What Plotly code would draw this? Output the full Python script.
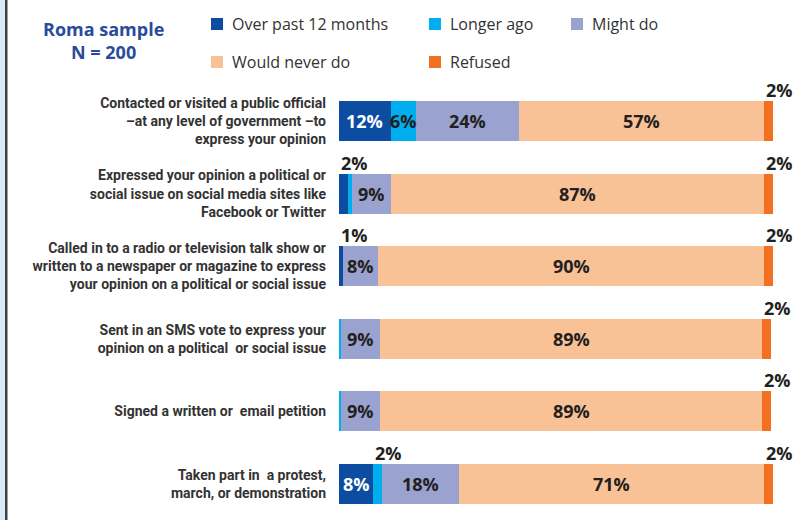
import plotly.graph_objects as go

# Survey items (top to bottom)
categories = [
    "Contacted or visited a public official<br>–at any level of government –to<br>express your opinion",
    "Expressed your opinion a political or<br>social issue on social media sites like<br>Facebook or Twitter",
    "Called in to a radio or television talk show or<br>written to a newspaper or magazine to express<br>your opinion on a political or social issue",
    "Sent in an SMS vote to express your<br>opinion on a political  or social issue",
    "Signed a written or  email petition",
    "Taken part in  a protest,<br>march, or demonstration",
]

series_names = ["Over past 12 months", "Longer ago", "Might do", "Would never do", "Refused"]
over_past_12 = [12, 2, 1, 0, 0, 8]
longer_ago = [6, 1, 0, 0.5, 0.5, 2]
might_do = [24, 9, 8, 9, 9, 18]
would_never = [57, 87, 90, 89, 89, 71]
refused = [2, 2, 2, 2, 2, 2]

series_values = [over_past_12, longer_ago, might_do, would_never, refused]
colors = ["#0d4da1", "#00adef", "#9aa2cf", "#f9c196", "#f37021"]
value_text_colors = ["#ffffff", "#231f20", "#231f20", "#231f20", "#231f20"]

# Thin slivers that carry no value label: (series index, row index)
unlabeled = {(1, 1), (1, 3), (1, 4)}

W, H = 795, 520
ML, MR, MT, MB = 339, 22, 85, 0
PW, PH = W - ML - MR, H - MT - MB


def px(x):
    return (x - ML) / PW


def py(y):
    return (H - MB - y) / PH


fig = go.Figure()
for name, vals, col in zip(series_names, series_values, colors):
    fig.add_trace(go.Bar(
        name=name, y=categories, x=vals, orientation="h",
        marker=dict(color=col, line=dict(width=0)),
        hoverinfo="x+name", showlegend=False,
    ))

annotations = []
shapes = []
val_font = "Open Sans, DejaVu Sans, sans-serif"

# Value labels: inside wide segments, above narrow ones
for r, cat in enumerate(categories):
    start = 0.0
    for s, vals in enumerate(series_values):
        v = vals[r]
        if v > 0 and (s, r) not in unlabeled:
            label = f"{v:g}%"
            if v >= 5:
                annotations.append(dict(
                    x=start + v / 2, y=cat, xref="x", yref="y", text=label,
                    showarrow=False, xanchor="center", yanchor="middle",
                    font=dict(family=val_font, size=18, color=value_text_colors[s], weight="bold"),
                ))
            else:
                annotations.append(dict(
                    x=start, y=cat, xref="x", yref="y", text=label,
                    showarrow=False, xanchor="left", yanchor="bottom", yshift=17,
                    font=dict(family=val_font, size=18, color="#231f20", weight="bold"),
                ))
        start += v

# Title block
annotations.append(dict(
    x=px(104), y=py(40), xref="paper", yref="paper",
    text="<b>Roma sample<br>N = 200</b>", showarrow=False,
    xanchor="center", yanchor="middle", align="center",
    font=dict(family=val_font, size=18, color="#2a4b9b"),
))

# Legend drawn as swatches plus text
legend_pos = [(211, 24), (429, 24), (571, 24), (211, 62), (429, 62)]
for name, col, (lx, ly) in zip(series_names, colors, legend_pos):
    shapes.append(dict(
        type="rect", xref="paper", yref="paper",
        x0=px(lx), x1=px(lx + 12), y0=py(ly + 6), y1=py(ly - 6),
        fillcolor=col, line=dict(width=0),
    ))
    annotations.append(dict(
        x=px(lx + 19), y=py(ly), xref="paper", yref="paper", text=name,
        showarrow=False, xanchor="left", yanchor="middle",
        font=dict(family=val_font, size=16, color="#333333"),
    ))

# Page edge: pale strip with dark rule
shapes.append(dict(type="rect", xref="paper", yref="paper",
                   x0=px(0), x1=px(5), y0=py(H), y1=py(0),
                   fillcolor="#dbeaf6", line=dict(width=0), layer="below"))
shapes.append(dict(type="rect", xref="paper", yref="paper",
                   x0=px(5), x1=px(7.5), y0=py(H), y1=py(0),
                   fillcolor="#404040", line=dict(width=0), layer="below"))

fig.update_layout(
    barmode="stack",
    bargap=0.455,
    width=W, height=H,
    margin=dict(l=ML, r=MR, t=MT, b=MB, pad=0),
    paper_bgcolor="white", plot_bgcolor="white",
    xaxis=dict(range=[0, 101], visible=False, fixedrange=True),
    yaxis=dict(
        range=[len(categories) - 0.5, -0.5], showgrid=False, zeroline=False, showline=False,
        ticks="", ticklabelstandoff=12, fixedrange=True,
        tickfont=dict(family="Liberation Sans Narrow, Roboto, sans-serif", size=14,
                      color="#333333", weight="bold"),
    ),
    annotations=annotations,
    shapes=shapes,
    showlegend=False,
)

fig.write_html("out.html")
